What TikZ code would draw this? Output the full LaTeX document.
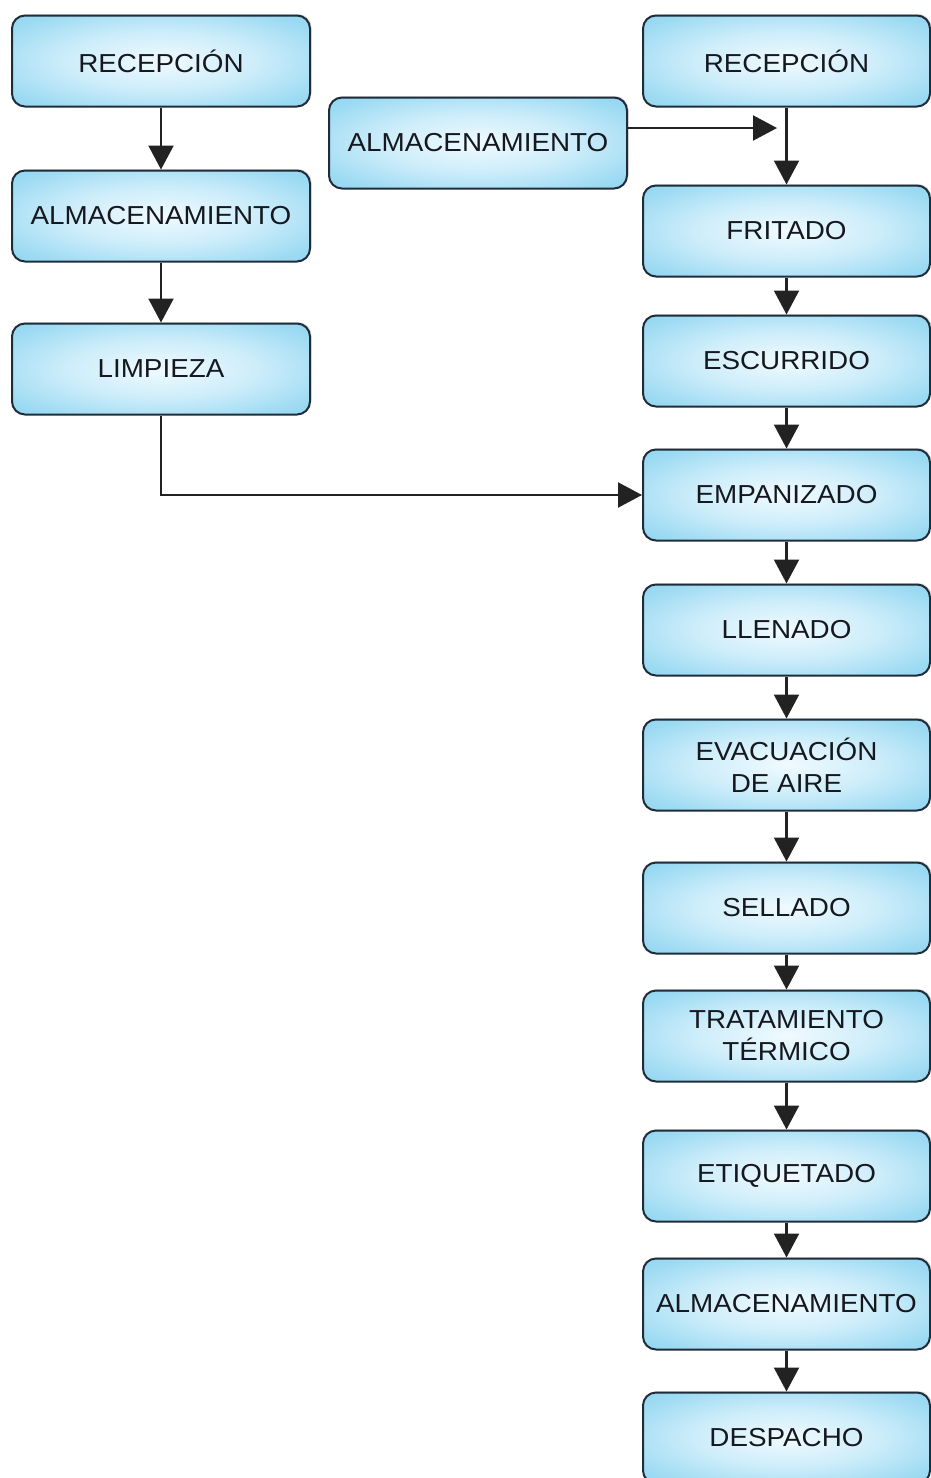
\documentclass[tikz,border=0pt]{standalone}
\usepackage{fontspec}
\setmainfont{Liberation Sans}[FakeStretch=1.07]
\usetikzlibrary{arrows.meta,shadows}
\definecolor{boxline}{HTML}{1F2D3A}
\definecolor{txt}{HTML}{15181F}
\definecolor{arrc}{HTML}{222222}
\definecolor{glowA}{HTML}{F0FAFF}
\definecolor{glowB}{HTML}{CDEDFA}
\definecolor{glowC}{HTML}{9EDBF3}
\definecolor{glowD}{HTML}{7DCCED}
\definecolor{glowE}{HTML}{72C6EA}
\pgfdeclareradialshading{boxglow}{\pgfpoint{0bp}{0bp}}{%
  color(0bp)=(glowA);
  color(16bp)=(glowB);
  color(30bp)=(glowC);
  color(44bp)=(glowD);
  color(50bp)=(glowE)}
\tikzset{
  x=1pt, y=-1pt,
  procbox/.style={draw=boxline, line width=2pt, rounded corners=13pt,
    shading=boxglow,
    minimum height=91pt, align=center, text=txt,
    font=\fontsize{26}{32}\selectfont,
    drop shadow={shadow xshift=1.5pt, shadow yshift=1.5pt, opacity=0.25, fill=gray}},
  leftbox/.style={procbox, minimum width=298pt},
  rightbox/.style={procbox, minimum width=287pt},
  arr/.style={draw=arrc, line width=2.2pt, -{Triangle[width=25pt,length=24pt]}},
}
\begin{document}
\begin{tikzpicture}
\useasboundingbox (0,0) rectangle (931,1478);
% left column
\node[leftbox] (lrec) at (161,61) {RECEPCIÓN};
\node[leftbox] (lalm) at (161,216) {ALMACENAMIENTO};
\node[leftbox] (llim) at (161,369) {LIMPIEZA};
% middle
\node[leftbox] (malm) at (478,143) {ALMACENAMIENTO};
% right column
\node[rightbox] (rrec) at (786.5,61) {RECEPCIÓN};
\node[rightbox] (frit) at (786.5,231) {FRITADO};
\node[rightbox] (escu) at (786.5,361) {ESCURRIDO};
\node[rightbox] (empa) at (786.5,495) {EMPANIZADO};
\node[rightbox] (llen) at (786.5,630) {LLENADO};
\node[rightbox] (evac) at (786.5,765) {EVACUACIÓN\\DE AIRE};
\node[rightbox] (sell) at (786.5,908) {SELLADO};
\node[rightbox] (trat) at (786.5,1036) {TRATAMIENTO\\TÉRMICO};
\node[rightbox] (etiq) at (786.5,1176) {ETIQUETADO};
\node[rightbox] (ralm) at (786.5,1304) {ALMACENAMIENTO};
\node[rightbox] (desp) at (786.5,1438) {DESPACHO};
% connectors
\draw[arr] (lrec) -- (lalm);
\draw[arr] (lalm) -- (llim);
\draw[arr] (llim.south) |- (empa.west);
\coordinate (mtip) at (777,128);
\draw[arr] (malm.east |- mtip) -- (mtip);
\draw[arr] (rrec) -- (frit);
\draw[arr] (frit) -- (escu);
\draw[arr] (escu) -- (empa);
\draw[arr] (empa) -- (llen);
\draw[arr] (llen) -- (evac);
\draw[arr] (evac) -- (sell);
\draw[arr] (sell) -- (trat);
\draw[arr] (trat) -- (etiq);
\draw[arr] (etiq) -- (ralm);
\draw[arr] (ralm) -- (desp);
\end{tikzpicture}
\end{document}
